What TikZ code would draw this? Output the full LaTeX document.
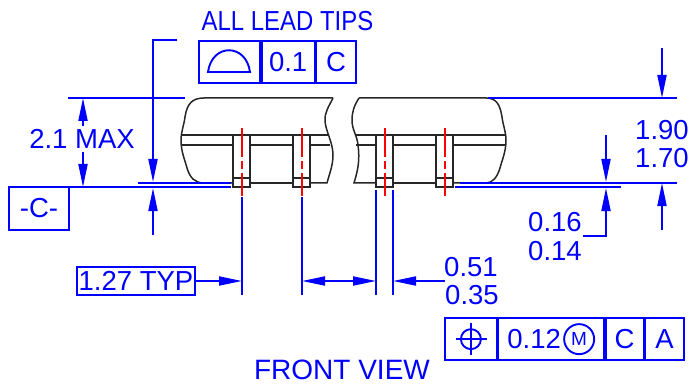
\documentclass[tikz,border=0pt]{standalone}
\usepackage{fontspec}
\setmainfont{Liberation Sans}
\usepackage{tikz}
\usetikzlibrary{matrix,arrows.meta}
\colorlet{dimen}{blue}
\colorlet{centre}{red}
\colorlet{outline}{black!85}
\newcommand{\dimfont}{\fontsize{27.5}{30}\selectfont}
\newcommand{\smallm}{\fontsize{19}{20}\selectfont}

\begin{document}
\begin{tikzpicture}[
    x=1pt,y=-1pt,
    dim/.style={draw=dimen,line width=1.9pt},
    arrow/.style={dim,-{Stealth[length=23pt,width=9pt,inset=0pt]}},
    both/.style={dim,{Stealth[length=23pt,width=9pt,inset=0pt]}-{Stealth[length=23pt,width=9pt,inset=0pt]}},
    body/.style={draw=outline,line width=1.5pt},
    axis/.style={draw=centre,line width=1.9pt,dash pattern=on 29pt off 4pt on 8pt off 4pt on 40pt},
    label/.style={text=dimen,font=\dimfont,inner sep=0pt},
    cell/.style={label,draw=dimen,line width=1.9pt,minimum height=42pt,anchor=center,outer sep=0pt},
    frame/.style={matrix of nodes,nodes={cell},column sep=-\pgflinewidth,inner sep=0pt,anchor=north west}
]
\useasboundingbox (0,0) rectangle (691,385);

% package
\draw[body] (333,98) -- (204,98) .. controls (192,98) and (187,104) .. (185,117)
    .. controls (184,125) and (181,132) .. (181,140) .. controls (181,152) and (185,160) .. (187,168)
    .. controls (190,178) and (195,183) .. (204,183) -- (233,183);
\draw[body] (333,98) .. controls (328,108) and (325,112) .. (325,120)
    .. controls (325,130) and (333,142) .. (333,155) .. controls (333,165) and (330,172) .. (327,183) -- (310,183);
\draw[body] (250,183) -- (293,183);
\draw[body] (359,98) -- (486,98) .. controls (496,98) and (500,104) .. (502,117)
    .. controls (503,125) and (506,132) .. (506,140) .. controls (506,152) and (502,160) .. (500,168)
    .. controls (497,178) and (492,183) .. (486,183) -- (453,183);
\draw[body] (359,98) .. controls (354,106) and (352,112) .. (352,120)
    .. controls (352,130) and (357,135) .. (358,145) .. controls (360,160) and (358,170) .. (354,183) -- (376,183);
\draw[body] (393,183) -- (436,183);
\draw[body] (181,135) -- (329,135);
\draw[body] (181,145) -- (233,145) (250,145) -- (293,145) (310,145) -- (330,145);
\draw[body] (355,135) -- (506,135);
\draw[body] (356,145) -- (376,145) (393,145) -- (436,145) (453,145) -- (506,145);

% leads
\foreach \lead/\leadx/\axisx in {a/233/242,b/293/302,c/376/385,d/436/445} {
  \draw[body] (\leadx,135) -- (\leadx,187) -- (\leadx+17,187) -- (\leadx+17,135);
  \draw[body] (\leadx,178) -- (\leadx+17,178);
  \coordinate (\lead top) at (\axisx,128);
  \coordinate (\lead bot) at (\axisx,196);
  \draw[axis] (\lead top) -- (\lead bot);
}

% reference lines
\coordinate (topl) at (68,98);
\coordinate (topr) at (185,98);
\coordinate (datl) at (69,187);
\coordinate (datr) at (231,187);
\coordinate (seatl) at (138,183);
\coordinate (seatr) at (231,183);
\draw[dim] (topl) -- (topr);
\draw[dim] (datl) -- (datr);
\draw[dim] (seatl) -- (seatr);
\coordinate (rtop) at (488,98);
\coordinate (rtopend) at (677,98);
\coordinate (rseat) at (460,183);
\coordinate (rseatend) at (677,183);
\coordinate (rfoot) at (455,187);
\coordinate (rfootend) at (621,187);
\draw[dim] (rtop) -- (rtopend);
\draw[dim] (rseat) -- (rseatend);
\draw[dim] (rfoot) -- (rfootend);

% flatness frame
\node[label,xscale=.87] (tips) at (287.5,21) {ALL LEAD TIPS};
\matrix (FLAT) [frame,column 1/.style={nodes={minimum width=61pt}},%
                column 2/.style={nodes={minimum width=53pt}},%
                column 3/.style={nodes={minimum width=40pt}}] at (198,40)
{
  \mbox{} & 0.1 & C \\
};
\draw[dim] (208,72) .. controls (212,43) and (246,43) .. (250,72) -- cycle;
\coordinate (flatl) at (177,40);
\coordinate (flatc) at (153,40);
\coordinate (flatt) at (153,182);
\coordinate (flatu) at (153,235);
\coordinate (flatv) at (153,188);
\draw[arrow] (flatl) -- (flatc) -- (flatt);
\draw[arrow] (flatu) -- (flatv);

% max height
\node[label] (maxh) at (82,139) {2.1 MAX};
\coordinate (maxt) at (83,98);
\coordinate (maxb) at (83,187);
\draw[arrow] (maxh.north -| maxt) ++(0,-3) -- (maxt);
\draw[arrow] (maxh.south -| maxb) ++(0,3) -- (maxb);

% datum
\node[cell,minimum width=60pt,minimum height=43pt] (datum) at (39,208.5) {-C-};

% pitch
\node[label,draw=dimen,line width=1.9pt,minimum width=118pt,minimum height=28pt] (pitch) at (136,281) {1.27 TYP};
\coordinate (pa) at (242,197);
\coordinate (pb) at (302,197);
\coordinate (pc) at (376,190);
\coordinate (pd) at (393,190);
\draw[dim] (pa) -- (242,295);
\draw[dim] (pb) -- (302,295);
\draw[dim] (pc) -- (376,295);
\draw[dim] (pd) -- (393,295);
\coordinate (pitchl) at (242,281);
\coordinate (pitchr) at (302,281);
\coordinate (widthl) at (376,281);
\coordinate (widthr) at (393,281);
\draw[arrow] (pitch.east) -- (pitchl);
\draw[both] (pitchr) -- (widthl);
\node[label] (widmax) at (471,267) {0.51};
\node[label] (widmin) at (472,295) {0.35};
\coordinate (widthe) at (445,281);
\draw[arrow] (widthe) -- (widthr);

% overall height
\node[label] (hmax) at (662,130) {1.90};
\node[label] (hmin) at (662,158) {1.70};
\coordinate (hx) at (662,48);
\coordinate (hy) at (662,98);
\coordinate (hz) at (662,230);
\coordinate (hw) at (662,183);
\draw[arrow] (hx) -- (hy);
\draw[arrow] (hz) -- (hw);

% lead thickness
\node[label] (tmax) at (555,222) {0.16};
\node[label] (tmin) at (555,251) {0.14};
\coordinate (ta) at (606,135);
\coordinate (tb) at (606,182);
\coordinate (tc) at (583,236);
\coordinate (td) at (606,236);
\coordinate (te) at (606,188);
\draw[arrow] (ta) -- (tb);
\draw[arrow] (tc) -- (td) -- (te);

% position frame
\matrix (POS) [frame,column 1/.style={nodes={minimum width=51.5pt}},%
               column 2/.style={nodes={minimum width=106pt}},%
               column 3/.style={nodes={minimum width=38pt}},%
               column 4/.style={nodes={minimum width=39pt}}] at (444,317)
{
  \mbox{} & \mbox{} & C & A \\
};
\node[draw=dimen,line width=1.9pt,circle,minimum size=20pt,inner sep=0pt] (target) at (POS-1-1) {};
\draw[dim] ([xshift=-15pt]target.center) -- ([xshift=16pt]target.center);
\draw[dim] ([yshift=-16pt]target.center) -- ([yshift=16pt]target.center);
\node[label] (tol) at ([xshift=-17pt]POS-1-2) {0.12};
\node[label,font=\smallm,draw=dimen,line width=1.9pt,circle,minimum size=30pt] (mmc) at ([xshift=28pt]POS-1-2) {M};

\node[label,font=\fontsize{28}{30}\selectfont] (title) at (342,370) {FRONT VIEW};
\end{tikzpicture}
\end{document}
